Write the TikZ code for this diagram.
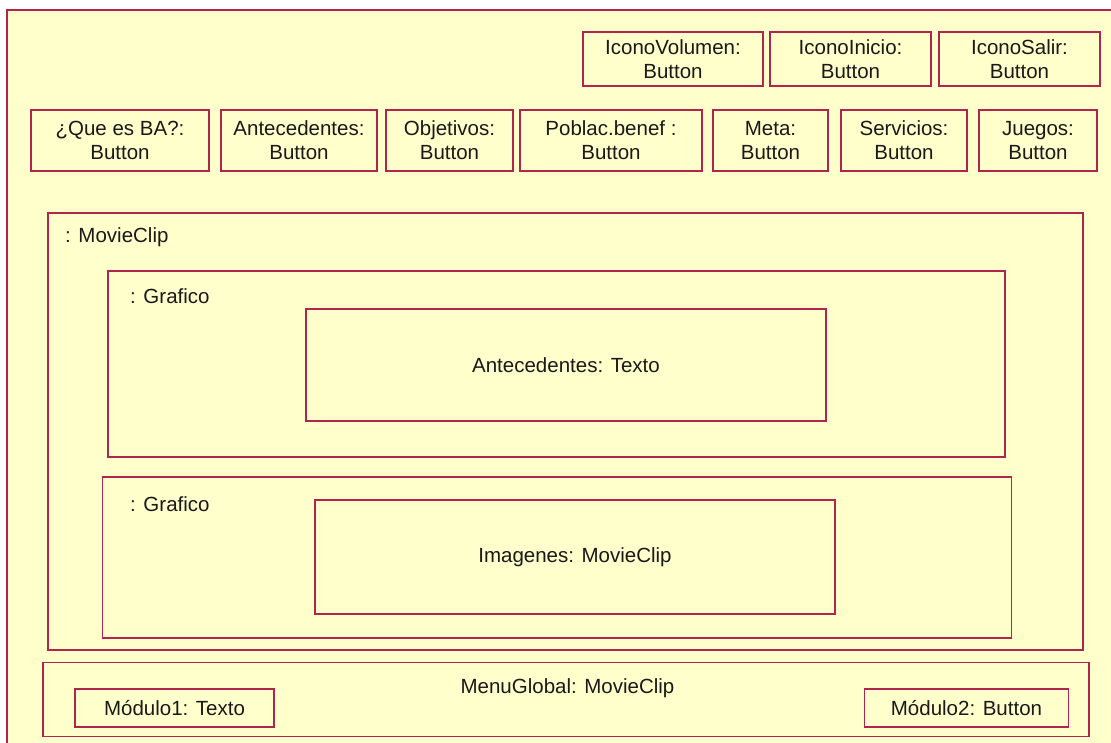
\documentclass[tikz,border=0pt]{standalone}
\usepackage{fontspec}
\setmainfont{Liberation Sans}
\definecolor{umlfill}{RGB}{255,255,204}
\definecolor{umlline}{RGB}{176,36,78}
\begin{document}
\begin{tikzpicture}[x=1pt,y=-1pt,
  box/.style={draw=umlline, fill=umlfill, line width=1.8pt, inner sep=0pt, align=center,
              font=\fontsize{20.5}{24}\selectfont, text=black!90},
  lbl/.style={inner sep=0pt, anchor=west, font=\fontsize{20.5}{24}\selectfont, text=black!90}]
\useasboundingbox (0,0) rectangle (1111,742);
\fill[white] (0,0) rectangle (1111,742);
\clip (0,0) rectangle (1111,742);
% outer frame (extends beyond the page)
\draw[draw=umlline, fill=umlfill, line width=1.8pt] (7,10) rectangle (1130,760);

% top row icons
\node[box, minimum width=180pt, minimum height=54pt] (ivol) at (673,59) {IconoVolumen:\\Button};
\node[box, minimum width=161pt, minimum height=54pt] (iini) at (850.5,59) {IconoInicio:\\Button};
\node[box, minimum width=161pt, minimum height=54pt] (isal) at (1019.5,59) {IconoSalir:\\Button};

% second row buttons
\node[box, minimum width=178pt, minimum height=61pt] (bqba) at (120,140.5) {¿Que es BA?:\\Button};
\node[box, minimum width=156pt, minimum height=61pt] (bant) at (299,140.5) {Antecedentes:\\Button};
\node[box, minimum width=127pt, minimum height=61pt] (bobj) at (449.5,140.5) {Objetivos:\\Button};
\node[box, minimum width=182pt, minimum height=61pt] (bpob) at (611,140.5) {Poblac.benef :\\Button};
\node[box, minimum width=115pt, minimum height=61pt] (bmet) at (770.5,140.5) {Meta:\\Button};
\node[box, minimum width=126pt, minimum height=61pt] (bser) at (904,140.5) {Servicios:\\Button};
\node[box, minimum width=118pt, minimum height=61pt] (bjue) at (1038,140.5) {Juegos:\\Button};

% MovieClip container
\node[box, minimum width=1035pt, minimum height=437pt] (mc) at (565.5,431.5) {};
\node[lbl] (mclbl) at (65,237) {: MovieClip};

% Grafico 1
\node[box, minimum width=897pt, minimum height=186pt] (g1) at (556.5,364) {};
\node[lbl] (g1lbl) at (130,296) {: Grafico};
\node[box, minimum width=520pt, minimum height=112pt] (tx) at (566,365) {Antecedentes: Texto};

% Grafico 2
\node[box, minimum width=909pt, minimum height=161pt] (g2) at (557,557.5) {};
\node[lbl] (g2lbl) at (130,504) {: Grafico};
\node[box, minimum width=520pt, minimum height=114pt] (img) at (575,557) {Imagenes: MovieClip};

% MenuGlobal
\node[box, minimum width=1046pt, minimum height=74pt] (mg) at (566,699.5) {};
\node[inner sep=0pt, font=\fontsize{20.5}{24}\selectfont, text=black!90] (mglbl) at (567.5,688) {MenuGlobal: MovieClip};
\node[box, minimum width=199pt, minimum height=38pt] (m1) at (174.5,708) {Módulo1: Texto};
\node[box, minimum width=204pt, minimum height=38pt] (m2) at (966.5,708) {Módulo2: Button};
\end{tikzpicture}
\end{document}
